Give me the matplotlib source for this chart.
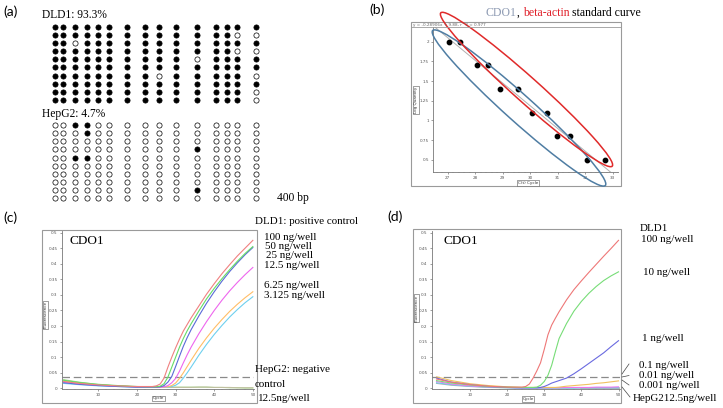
import numpy as np
import matplotlib
matplotlib.use("Agg")
import matplotlib.pyplot as plt
from matplotlib.patches import Ellipse, Rectangle

# ---------------- data ----------------
# (a) bisulfite sequencing: CpG site positions (x, in panel units) and methylation (1 = methylated)
cpg_pos = [55, 63.3, 75, 87.3, 97.7, 109.3, 127.3, 145, 159.3, 176, 197.3, 216, 226.7, 236.7, 256]
dld1_meth = [
    [1,1,1,1,1,1,1,1,1,1,1,1,1,1,1],
    [1,1,1,1,1,1,1,1,1,1,1,1,1,0,0],
    [1,1,0,1,1,1,1,1,1,1,1,1,1,1,1],
    [1,1,1,1,1,1,1,1,1,1,1,1,1,0,0],
    [1,1,1,1,1,1,1,1,1,1,0,1,1,1,1],
    [1,1,1,1,1,1,1,1,1,1,1,1,1,1,1],
    [1,1,1,1,1,1,1,1,0,1,1,1,1,1,0],
    [1,1,1,1,1,1,1,1,1,1,1,1,1,1,1],
    [1,1,1,1,1,1,1,1,1,1,1,1,1,1,0],
    [1,1,1,1,1,1,1,1,1,1,1,1,1,1,0],
]
hepg2_meth = [
    [0,0,1,1,0,0,0,0,0,0,0,0,0,0,0],
    [0,0,0,1,0,0,0,0,0,0,0,0,0,0,0],
    [0,0,0,0,0,0,0,0,0,0,0,0,0,0,0],
    [0,0,0,0,0,0,0,0,0,0,1,0,0,0,0],
    [0,0,1,1,0,0,0,0,0,0,0,0,0,0,0],
    [0,0,0,0,0,0,0,0,0,0,0,0,0,0,0],
    [0,0,0,0,0,0,0,0,0,0,0,0,0,0,0],
    [0,0,0,0,0,0,0,0,0,0,0,0,0,0,0],
    [0,0,0,0,0,0,0,0,0,0,1,0,0,0,0],
    [0,0,0,0,0,0,0,0,0,0,0,0,0,0,0],
]

# (b) standard curve
std_ct = [27.05, 27.45, 28.07, 28.46, 28.91, 29.55, 30.08, 30.6, 30.98, 31.44, 32.07, 32.72]
std_logq = [2.0, 2.0, 1.7, 1.7, 1.4, 1.4, 1.1, 1.1, 0.8, 0.8, 0.5, 0.5]

# (c) amplification curves, DLD1 dilution series + HepG2
cycles_c = [1, 5, 10, 15, 20, 24, 25, 26, 27, 28, 29, 30, 31, 32, 33, 34, 36, 38, 40, 42, 44, 46, 48, 50]
c_100 = [.022,.016,.011,.008,.006,.006,.008,.014,.033,.068,.100,.130,.158,.184,.205,.226,.264,.302,.336,.368,.397,.425,.450,.475]
c_50  = [.026,.019,.013,.009,.006,.005,.005,.007,.015,.036,.068,.100,.132,.160,.185,.207,.248,.287,.321,.352,.381,.408,.433,.455]
c_25  = [.018,.013,.009,.006,.004,.004,.004,.005,.009,.020,.038,.070,.103,.135,.163,.188,.232,.273,.310,.344,.375,.403,.429,.452]
c_12  = [.020,.014,.010,.007,.005,.004,.004,.004,.005,.009,.018,.032,.055,.082,.108,.132,.175,.214,.250,.283,.313,.340,.365,.388]
c_6   = [.024,.017,.011,.008,.005,.004,.004,.004,.004,.005,.009,.017,.032,.050,.070,.090,.128,.162,.193,.221,.247,.270,.291,.310]
c_3   = [.016,.012,.008,.006,.004,.003,.003,.003,.003,.004,.006,.010,.018,.033,.050,.068,.106,.141,.173,.202,.229,.253,.275,.294]
c_neg = [.028,.020,.012,.008,.005,.004,.004,.004,.004,.004,.004,.004,.004,.004,.004,.004,.004,.004,.003,.003,.002,.002,.001,.001]
c_neg2 = [.024,.018,.011,.007,.005,.004,.003,.003,.003,.003,.003,.003,.003,.003,.003,.003,.004,.004,.003,.003,.003,.002,.002,.002]

# (d) amplification curves, DLD1 10-fold dilutions + HepG2
cycles_d = [1, 5, 10, 15, 20, 24, 25, 26, 27, 28, 29, 30, 31, 32, 33, 34, 36, 38, 40, 42, 44, 46, 48, 50]
d_100  = [.030,.020,.012,.007,.004,.004,.006,.014,.033,.056,.082,.125,.172,.203,.225,.246,.284,.317,.345,.372,.398,.424,.449,.475]
d_10   = [.025,.017,.011,.006,.004,.003,.003,.003,.003,.004,.010,.022,.042,.074,.118,.160,.208,.248,.279,.305,.327,.346,.361,.374]
d_1    = [.033,.020,.012,.006,.003,.002,.002,.002,.002,.002,.003,.006,.011,.017,.021,.025,.033,.047,.063,.080,.097,.114,.134,.153]
d_01   = [.037,.025,.015,.009,.005,.003,.003,.003,.003,.003,.003,.003,.003,.003,.003,.004,.007,.009,.011,.013,.016,.018,.021,.024]
d_001  = [.022,.014,.008,.005,.003,.002,.002,.002,.002,.002,.002,.002,.002,.002,.002,.002,.003,.003,.003,.003,.004,.004,.004,.005]
d_0001 = [.018,.012,.007,.004,.002,.001,.001,.001,.001,.001,.001,.001,.001,.001,.001,.001,.001,.001,.002,.002,.002,.002,.002,.002]
d_neg  = [.016,.010,.006,.003,.002,.001,.001,.001,.001,.001,.001,.001,.001,.001,.001,.001,.001,.001,.001,.001,.001,.001,.001,.001]
threshold = 0.036

# ---------------- figure ----------------
W, H = 723, 408
fig = plt.figure(figsize=(W / 100, H / 100), dpi=100)
SERIF = ['Liberation Serif', 'DejaVu Serif']
SANS = ['Lato', 'DejaVu Sans']
GRAY = '#9a9a9a'


def px_axes(x0, y0, x1, y1, **kw):
    return fig.add_axes([x0 / W, 1 - y1 / H, (x1 - x0) / W, (y1 - y0) / H], **kw)


# ---- (a) lollipop grid ----
axa = px_axes(0, 0, 360, 210)
axa.set_xlim(0, 360)
axa.set_ylim(210, 0)
axa.axis('off')
row_step = 8.15
for block, y0 in ((dld1_meth, 26.7), (hepg2_meth, 125.0)):
    for r, row in enumerate(block):
        yy = y0 + r * row_step
        for c, v in enumerate(row):
            axa.scatter(cpg_pos[c], yy, s=14, marker='o',
                        facecolor='black' if v else 'white',
                        edgecolor='black', linewidths=0.5, zorder=3)

# ---- (b) standard curve ----
axb = px_axes(433, 27, 618, 172)
axb.set_xlim(26.46, 33.14)
axb.set_ylim(0.346, 2.187)
slope, intercept = np.polyfit(std_ct, std_logq, 1)
xx = np.array([26.46, 33.14])
axb.plot(xx, slope * xx + intercept, color='#b0b0b0', lw=0.7, zorder=2)
axb.scatter(std_ct, std_logq, s=10, color='black', zorder=3)
axb.set_xticks(range(27, 34))
axb.set_xticklabels([str(v) for v in range(27, 34)])
axb.set_xticks(np.arange(26.6, 33.2, 0.2), minor=True)
axb.set_yticks([0.5, 0.75, 1, 1.25, 1.5, 1.75, 2])
axb.set_yticklabels(['0.5', '0.75', '1', '1.25', '1.5', '1.75', '2'])
for sp in ('top', 'right'):
    axb.spines[sp].set_visible(False)
for sp in ('left', 'bottom'):
    axb.spines[sp].set_color('#777777')
    axb.spines[sp].set_linewidth(0.6)
axb.tick_params(labelsize=3, length=1.5, width=0.4, pad=1.5, colors='#555555')
axb.tick_params(which='minor', length=1, width=0.3, colors='#777777')


def pcr_axes(ax, xlim):
    ax.set_xlim(*xlim)
    ax.set_ylim(-0.002, 0.505)
    ax.set_yticks(np.arange(0, 0.501, 0.05))
    ax.set_yticklabels(['0', '0.05', '0.1', '0.15', '0.2', '0.25', '0.3', '0.35', '0.4', '0.45', '0.5'])
    ax.set_xticks([10, 20, 30, 40, 50])
    ax.set_xticks(range(2, 51, 2), minor=True)
    for sp in ('top', 'right'):
        ax.spines[sp].set_visible(False)
    for sp in ('left', 'bottom'):
        ax.spines[sp].set_color('#777777')
        ax.spines[sp].set_linewidth(0.6)
    ax.tick_params(labelsize=3, length=1.5, width=0.4, pad=1.5, colors='#555555')
    ax.tick_params(which='minor', length=1, width=0.3, colors='#777777')
    ax.axhline(threshold, color='#8a8a8a', lw=0.9, ls=(0, (6, 3)), zorder=1)


# ---- (c) ----
axc = px_axes(61.7, 231, 254, 389)
pcr_axes(axc, (0.5, 50.3))
c_series = [(c_neg, '#a8d890'), (c_neg2, '#c0c0a0'), (c_3, '#6fd0ee'), (c_6, '#ffbe66'),
            (c_12, '#ee66ee'), (c_25, '#5a6ad8'), (c_50, '#66dd66'), (c_100, '#f08080')]
for vals, col in c_series:
    axc.plot(cycles_c, vals, color=col, lw=0.8, zorder=2)

# ---- (d) ----
axd = px_axes(431.7, 231, 620, 389)
pcr_axes(axd, (-0.3, 50.4))
d_series = [(d_neg, '#b0b0b0'), (d_0001, '#66ccee'), (d_001, '#ee77ee'), (d_01, '#f0c060'),
            (d_1, '#6a6ae0'), (d_10, '#77dd77'), (d_100, '#ee7777')]
for vals, col in d_series:
    axd.plot(cycles_d, vals, color=col, lw=0.8, zorder=2)
axd.plot(cycles_d[-6:], d_neg[-6:], color='#b8b8b8', lw=1.8, zorder=1)

# ---- overlay (frames, labels, ellipses) ----
ov = fig.add_axes([0, 0, 1, 1], zorder=10)
ov.set_xlim(0, W)
ov.set_ylim(H, 0)
ov.axis('off')
ov.patch.set_alpha(0)

for (x0, y0, x1, y1) in ((411, 22, 621, 186), (42, 230, 257, 403), (413, 229, 621, 403)):
    ov.add_patch(Rectangle((x0, y0), x1 - x0, y1 - y0, fill=False, ec=GRAY, lw=0.8))
ov.plot([411, 621], [27, 27], color=GRAY, lw=0.6)
ov.text(413, 24.6, 'y = -0.28906x + 9.88, r^2 = 0.977', fontsize=3, color='#666666',
        va='center', ha='left', family='DejaVu Sans')

ov.add_patch(Ellipse((519, 108), 232, 27, angle=41.9, fill=False, ec='#4f7da3', lw=1.1))
ov.add_patch(Ellipse((526.5, 89.5), 230, 25, angle=41.8, fill=False, ec='#e02a2a', lw=1.1))

box = dict(boxstyle='square,pad=0.15', fc='white', ec='#555555', lw=0.4)
for (x, y, s, rot) in ((416, 100, 'Log Quantity', 90), (528, 183, 'C(t) Cycle', 0),
                       (45.7, 315, 'Fluorescence', 90), (158.3, 398.3, 'Cycle', 0),
                       (416.7, 308, 'Fluorescence', 90), (528, 399, 'Cycle', 0)):
    ov.text(x, y, s, fontsize=3, rotation=rot, ha='center', va='center', bbox=box,
            family='DejaVu Sans', color='#333333')

# panel letters
for (x, y, s) in ((3, 12, '(a)'), (369, 10, '(b)'), (3, 218, '(c)'), (387, 217, '(d)')):
    ov.text(x, y, s, fontsize=10, family=SANS, ha='left', va='center')

# (a) texts
ov.text(42.5, 15, 'DLD1: 93.3%', fontsize=8.3, family=SERIF, va='center')
ov.text(42.5, 114.5, 'HepG2: 4.7%', fontsize=8.3, family=SERIF, va='center')
ov.text(277, 198, '400 bp', fontsize=8.3, family=SERIF, va='center')

# (b) title in three colours
t1 = ov.text(486, 13, 'CDO1', fontsize=8.5, family=SERIF, va='center', color='#8e9bb3')
t2 = ov.annotate(', ', xy=(1, 0), xycoords=t1, va='bottom', ha='left', fontsize=8.5, family=SERIF)
t3 = ov.annotate('beta-actin', xy=(1, 0), xycoords=t2, va='bottom', ha='left', fontsize=8.5,
                 family=SERIF, color='#e0202a')
ov.annotate(' standard curve', xy=(1, 0), xycoords=t3, va='bottom', ha='left', fontsize=8.5,
            family=SERIF)

# CDO1 inside plots
ov.text(69.3, 240.7, 'CDO1', fontsize=9.5, family=SERIF, va='center')
ov.text(443.3, 241, 'CDO1', fontsize=9.5, family=SERIF, va='center')

# (c) right labels
for (x, y, s) in ((255, 221, 'DLD1: positive control'), (264, 237.7, '100 ng/well'),
                  (265, 246.3, '50 ng/well'), (266, 255.8, '25 ng/well'),
                  (264, 265.7, '12.5 ng/well'), (264, 285.7, '6.25 ng/well'),
                  (264, 295.7, '3.125 ng/well'), (255, 369, 'HepG2: negative'),
                  (255, 384.3, 'control'), (258.3, 398.3, '12.5ng/well')):
    ov.text(x, y, s, fontsize=7.9, family=SERIF, va='center')

# (d) right labels
for (x, y, s) in ((639.3, 228.3, 'DLD1'), (640.7, 240, '100 ng/well'),
                  (643, 272.7, '10 ng/well'), (642, 338.3, '1 ng/well'),
                  (639.3, 366, '0.1 ng/well'), (639.3, 376, '0.01 ng/well'),
                  (639.3, 385.7, '0.001 ng/well'), (632.7, 398.3, 'HepG212.5ng/well')):
    ov.text(x, y, s, fontsize=7.9, family=SERIF, va='center')
for (xa, ya, xb, yb) in ((622, 374, 629, 364), (622, 377, 629, 375.5),
                         (622, 380, 629, 385), (622, 387, 630, 397)):
    ov.plot([xa, xb], [ya, yb], color='#444444', lw=0.5)

fig.savefig('out.png', dpi=100, facecolor='white')
